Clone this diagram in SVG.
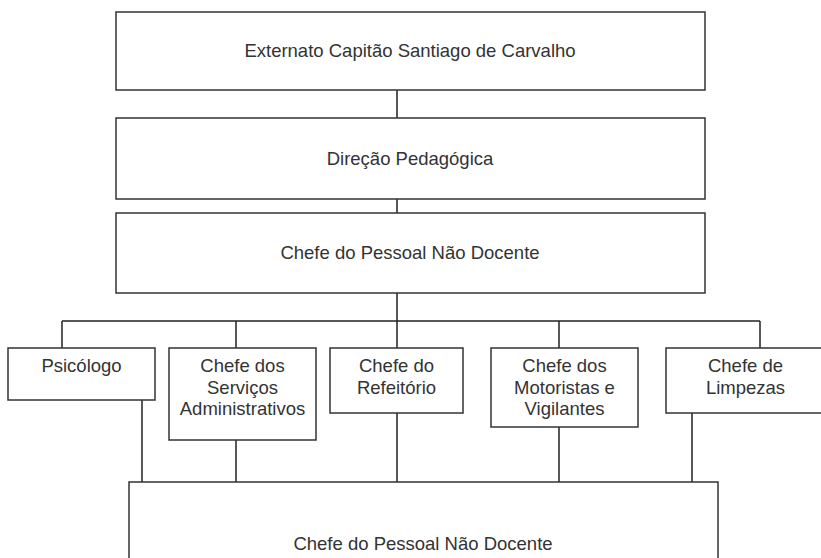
<svg xmlns="http://www.w3.org/2000/svg" width="821" height="558" viewBox="0 0 821 558">
<style>
.box{fill:#fff;stroke:#333;stroke-width:1.5}
.t{font-family:"Liberation Sans",Arial,sans-serif;font-size:18.5px;fill:#333;text-anchor:middle}
.c{fill:none;stroke:#222;stroke-width:1.5}
</style>
<rect width="821" height="558" fill="#fff"/>
<g id="connectors">
<path class="c" d="M397,90V118M397,199V213M397,293V348M62,321H760M62,321V348M236,321V348M559,321V348M760,321V348"/>
<path class="c" d="M142,400V482M236,440V482M397,413V482M559,427V482M692,413V482"/>
</g>
<g id="n1"><rect class="box" x="116" y="12" width="589" height="78"/><text class="t" x="410" y="57">Externato Capitão Santiago de Carvalho</text></g>
<g id="n2"><rect class="box" x="116" y="118" width="589" height="81"/><text class="t" x="410" y="165">Direção Pedagógica</text></g>
<g id="n3"><rect class="box" x="116" y="213" width="589" height="80"/><text class="t" x="410" y="259">Chefe do Pessoal Não Docente</text></g>
<g id="n4"><rect class="box" x="8" y="348" width="147" height="52"/><text class="t" x="81.5" y="372">Psicólogo</text></g>
<g id="n5"><rect class="box" x="169" y="348" width="147" height="92"/><text class="t" x="242.5" y="372">Chefe dos<tspan x="242.5" dy="21.5">Serviços</tspan><tspan x="242.5" dy="21.5">Administrativos</tspan></text></g>
<g id="n6"><rect class="box" x="330" y="348" width="133" height="65"/><text class="t" x="396.5" y="372">Chefe do<tspan x="396.5" dy="21.5">Refeitório</tspan></text></g>
<g id="n7"><rect class="box" x="491" y="348" width="147" height="79"/><text class="t" x="564.5" y="372">Chefe dos<tspan x="564.5" dy="21.5">Motoristas e</tspan><tspan x="564.5" dy="21.5">Vigilantes</tspan></text></g>
<g id="n8"><rect class="box" x="666" y="348" width="160" height="65"/><text class="t" x="745.5" y="372">Chefe de<tspan x="745.5" dy="21.5">Limpezas</tspan></text></g>
<g id="n9"><rect class="box" x="129" y="482" width="589" height="90"/><text class="t" x="423" y="550">Chefe do Pessoal Não Docente</text></g>
</svg>
